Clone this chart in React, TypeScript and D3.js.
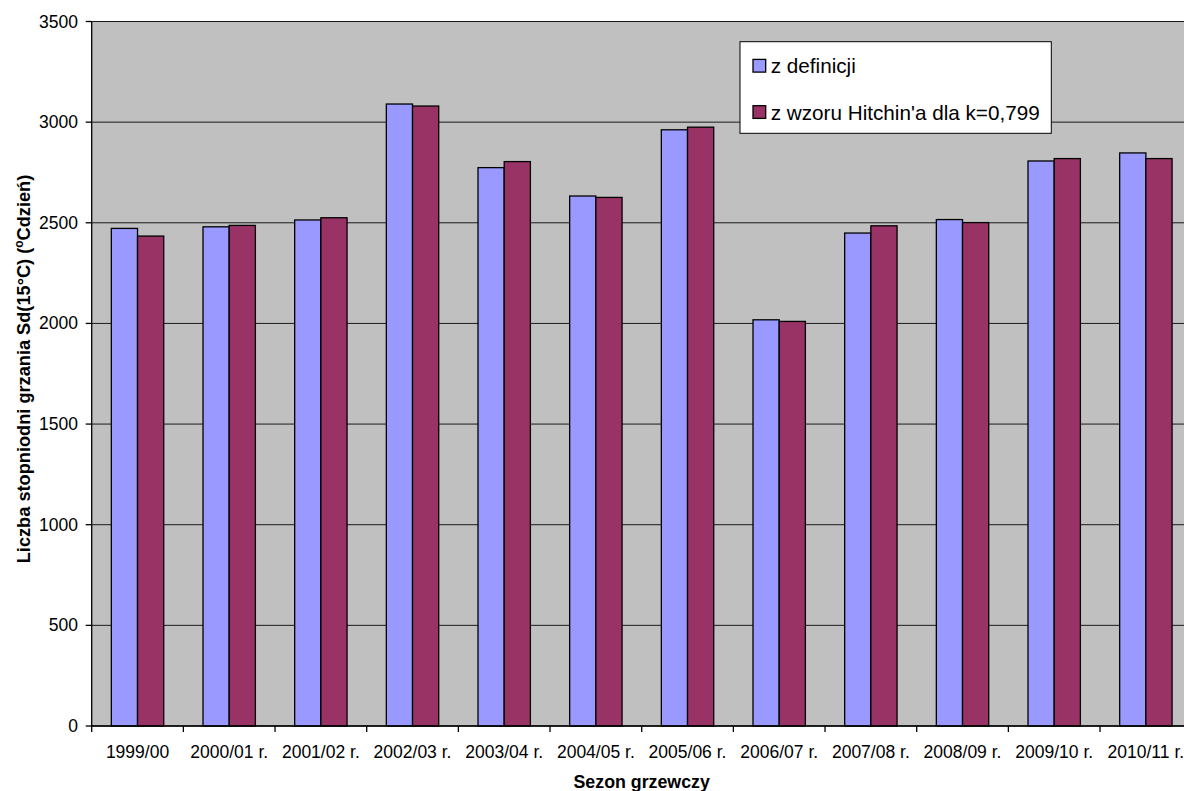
import React from "react";
import * as d3 from "d3";

// Heating seasons
const seasons: string[] = [
  "1999/00",
  "2000/01 r.",
  "2001/02 r.",
  "2002/03 r.",
  "2003/04 r.",
  "2004/05 r.",
  "2005/06 r.",
  "2006/07 r.",
  "2007/08 r.",
  "2008/09 r.",
  "2009/10 r.",
  "2010/11 r.",
];

// Degree-days computed from the definition
const fromDefinition: number[] = [
  2472, 2480, 2514, 3090, 2774, 2633, 2962, 2018, 2449, 2516, 2807, 2847,
];

// Degree-days from Hitchin's formula, k = 0.799
const fromHitchin: number[] = [
  2434, 2487, 2525, 3080, 2804, 2626, 2975, 2010, 2485, 2501, 2819, 2819,
];

const seriesNames: string[] = ["z definicji", "z wzoru Hitchin'a dla k=0,799"];
const seriesColors: string[] = ["#9999FF", "#993366"];
const yTicks: number[] = [0, 500, 1000, 1500, 2000, 2500, 3000, 3500];

const W = 1184;
const H = 791;
const plot = { left: 91.7, right: 1191.7, top: 21.5, bottom: 726 };
const FONT = "Arial, 'Liberation Sans', Helvetica, sans-serif";

export default function App() {
  const x = d3
    .scaleBand<string>()
    .domain(seasons)
    .range([plot.left, plot.right])
    .paddingInner(1.5 / 3.5)
    .paddingOuter(0.75 / 3.5);

  const xs = d3
    .scaleBand<string>()
    .domain(seriesNames)
    .range([0, x.bandwidth()])
    .padding(0);

  const y = d3.scaleLinear().domain([0, 3500]).range([plot.bottom, plot.top]);

  const step = x.step();
  const boundaries = d3.range(seasons.length + 1).map((i) => plot.left + i * step);

  const seriesValues = [fromDefinition, fromHitchin];

  return (
    <svg
      width={W}
      height={H}
      style={{ position: "absolute", left: 0, top: 0, background: "#ffffff" }}
      fontFamily={FONT}
    >
      {/* plot area */}
      <rect
        x={plot.left}
        y={plot.top}
        width={plot.right - plot.left}
        height={plot.bottom - plot.top}
        fill="#C0C0C0"
      />

      {/* horizontal gridlines */}
      {yTicks.map((t) => (
        <line
          key={"g" + t}
          x1={plot.left}
          x2={plot.right}
          y1={y(t)}
          y2={y(t)}
          stroke="#1a1a1a"
          strokeWidth={1}
        />
      ))}

      {/* bars */}
      {seriesNames.map((name, si) =>
        seasons.map((s, i) => {
          const v = seriesValues[si][i];
          const bx = (x(s) ?? 0) + (xs(name) ?? 0);
          return (
            <rect
              key={name + s}
              x={bx}
              y={y(v)}
              width={xs.bandwidth()}
              height={y(0) - y(v)}
              fill={seriesColors[si]}
              stroke="#000000"
              strokeWidth={1.3}
            />
          );
        })
      )}

      {/* y axis */}
      <line
        x1={plot.left}
        x2={plot.left}
        y1={plot.top}
        y2={plot.bottom}
        stroke="#000000"
        strokeWidth={1.3}
      />
      {yTicks.map((t) => (
        <g key={"yt" + t}>
          <line
            x1={plot.left - 6}
            x2={plot.left}
            y1={y(t)}
            y2={y(t)}
            stroke="#000000"
            strokeWidth={1.3}
          />
          <text
            x={78}
            y={y(t) + 6}
            textAnchor="end"
            fontSize={17.5}
            fill="#000000"
          >
            {t}
          </text>
        </g>
      ))}

      {/* x axis */}
      <line
        x1={plot.left}
        x2={plot.right}
        y1={plot.bottom}
        y2={plot.bottom}
        stroke="#000000"
        strokeWidth={1.3}
      />
      {boundaries.map((bx, i) => (
        <line
          key={"xt" + i}
          x1={bx}
          x2={bx}
          y1={plot.bottom}
          y2={plot.bottom + 6}
          stroke="#000000"
          strokeWidth={1.3}
        />
      ))}
      {seasons.map((s) => (
        <text
          key={"xl" + s}
          x={(x(s) ?? 0) + x.bandwidth() / 2}
          y={758}
          textAnchor="middle"
          fontSize={17.5}
          fill="#000000"
        >
          {s}
        </text>
      ))}

      {/* axis titles */}
      <text
        x={(plot.left + plot.right) / 2}
        y={788}
        textAnchor="middle"
        fontSize={17.8}
        fontWeight="bold"
        fill="#000000"
      >
        Sezon grzewczy
      </text>
      <text
        transform={`translate(30, 369) rotate(-90)`}
        textAnchor="middle"
        fontSize={18.2}
        fontWeight="bold"
        fill="#000000"
      >
        Liczba stopniodni grzania Sd(15°C) (
        <tspan fontSize={12} dy={-7}>
          o
        </tspan>
        <tspan dy={7}>Cdzień)</tspan>
      </text>

      {/* legend */}
      <rect x={740} y={41.7} width={311.3} height={91.6} fill="#ffffff" stroke="#000000" strokeWidth={1} />
      {seriesNames.map((name, si) => {
        const cy = si === 0 ? 65.7 : 112;
        return (
          <g key={"lg" + name}>
            <rect
              x={753}
              y={cy - 6.3}
              width={12.7}
              height={12.7}
              fill={seriesColors[si]}
              stroke="#000000"
              strokeWidth={1.3}
            />
            <text x={770.7} y={cy + 7.5} fontSize={20.7} fill="#000000">
              {name}
            </text>
          </g>
        );
      })}
    </svg>
  );
}
